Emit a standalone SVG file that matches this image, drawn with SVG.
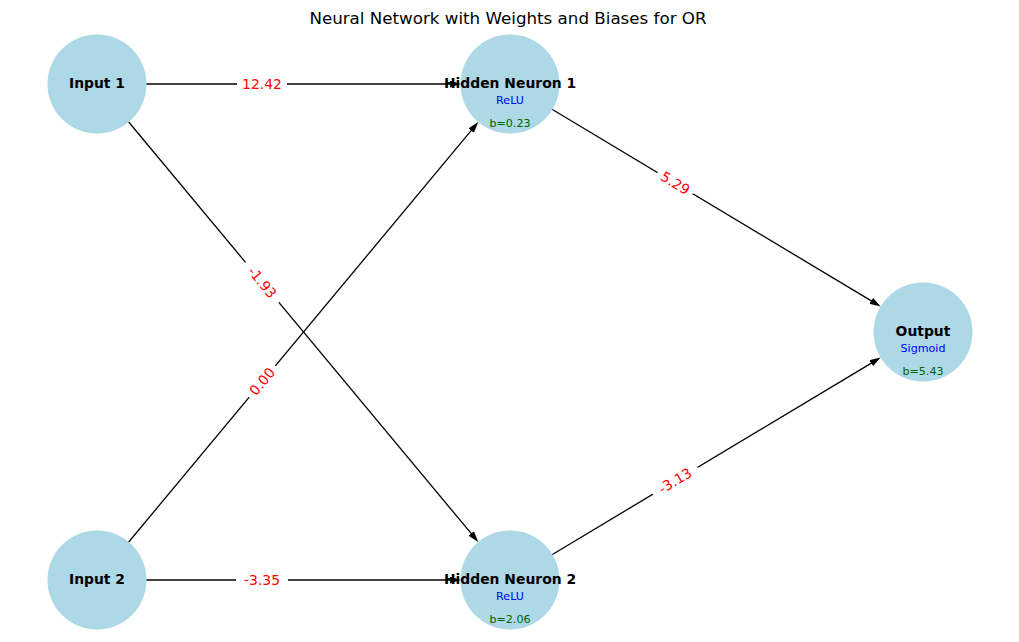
<svg xmlns="http://www.w3.org/2000/svg" width="1019" height="642" viewBox="0 0 1019 642">
<style>
text{font-family:"DejaVu Sans","Liberation Sans",sans-serif;text-anchor:middle}
.node{fill:#ADD8E6}
.nl{font-size:13.9px;font-weight:bold;fill:#000}
.act{font-size:11.1px;fill:#0000FF}
.bias{font-size:11.1px;fill:#006400}
.edge{stroke:#000;stroke-width:1.3;fill:none}
.lbox{fill:#fff;stroke:none}
.lt{font-size:13.9px;fill:#FF0000}
.title{font-size:16.7px;fill:#000}
</style>
<defs>
<marker id="arr" markerUnits="userSpaceOnUse" markerWidth="12" markerHeight="8" refX="7" refY="3.5" orient="auto">
<path d="M0,0 L11,3.5 L0,7 z" fill="#000"/>
</marker>
</defs>
<rect width="1019" height="642" fill="#fff"/>
<text class="title" x="508" y="24">Neural Network with Weights and Biases for OR</text>
<g id="node-input1"><circle class="node" cx="97" cy="84" r="49.5"/><text class="nl" x="97" y="88">Input 1</text></g>
<g id="node-input2"><circle class="node" cx="97" cy="580" r="49.5"/><text class="nl" x="97" y="584">Input 2</text></g>
<g id="node-hidden1"><circle class="node" cx="510" cy="84" r="49.5"/><text class="nl" x="510" y="88">Hidden Neuron 1</text><text class="act" x="510" y="103.5">ReLU</text><text class="bias" x="510" y="126.5">b=0.23</text></g>
<g id="node-hidden2"><circle class="node" cx="510" cy="580" r="49.5"/><text class="nl" x="510" y="584">Hidden Neuron 2</text><text class="act" x="510" y="599.5">ReLU</text><text class="bias" x="510" y="622.5">b=2.06</text></g>
<g id="node-output"><circle class="node" cx="923" cy="332" r="49.5"/><text class="nl" x="923" y="336">Output</text><text class="act" x="923" y="351.5">Sigmoid</text><text class="bias" x="923" y="374.5">b=5.43</text></g>
<g id="connectors">
<path class="edge" marker-end="url(#arr)" d="M146.5,84 L457,84"/>
<path class="edge" marker-end="url(#arr)" d="M146.5,580 L457,580"/>
<path class="edge" marker-end="url(#arr)" d="M128.7,122 L475.7,538.9"/>
<path class="edge" marker-end="url(#arr)" d="M128.7,542 L475.7,125.1"/>
<path class="edge" marker-end="url(#arr)" d="M552.4,109.5 L877.2,304.4"/>
<path class="edge" marker-end="url(#arr)" d="M552.4,554.5 L877.2,359.6"/>
<g transform="translate(262,84)"><rect class="lbox" x="-25" y="-10" width="50" height="20"/><text class="lt" y="4.8">12.42</text></g>
<g transform="translate(262,580)"><rect class="lbox" x="-26" y="-10" width="52" height="20"/><text class="lt" y="4.8">-3.35</text></g>
<g transform="translate(262.2,282.4) rotate(50.2)"><rect class="lbox" x="-26" y="-10" width="52" height="20"/><text class="lt" y="4.8">-1.93</text></g>
<g transform="translate(262.2,381.6) rotate(-50.2)"><rect class="lbox" x="-20.5" y="-10" width="41" height="20"/><text class="lt" y="4.8">0.00</text></g>
<g transform="translate(675.2,183.2) rotate(31)"><rect class="lbox" x="-20.5" y="-10" width="41" height="20"/><text class="lt" y="4.8">5.29</text></g>
<g transform="translate(675.2,480.8) rotate(-31)"><rect class="lbox" x="-26" y="-10" width="52" height="20"/><text class="lt" y="4.8">-3.13</text></g>
</g>
</svg>
